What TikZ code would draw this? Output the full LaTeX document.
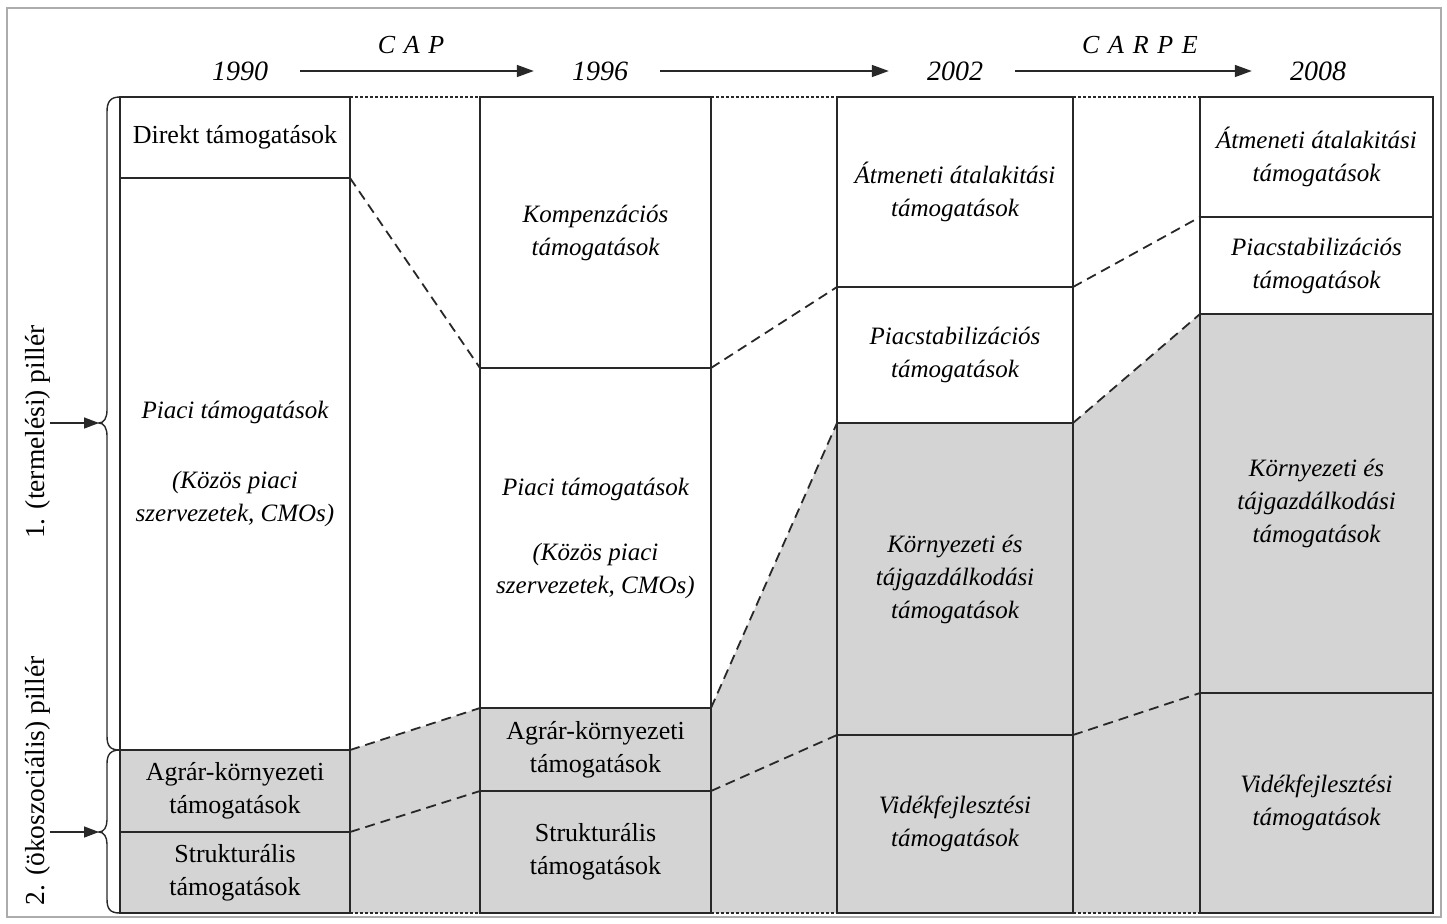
\documentclass[tikz,border=0pt]{standalone}
\usepackage{fontspec}
\setmainfont{Liberation Serif}
\usetikzlibrary{arrows.meta,backgrounds}
\definecolor{areagray}{RGB}{212,212,212}
\definecolor{ink}{RGB}{40,40,40}
\begin{document}
\begin{tikzpicture}[x=1pt,y=-1pt,
  cell/.style={draw=ink,line width=1.4pt,inner sep=0pt,outer sep=0pt,anchor=north west,align=center},
  upr/.style={font=\fontsize{26}{33}\selectfont},
  ita/.style={font=\fontsize{25}{33}\selectfont\itshape},
  yearlbl/.style={font=\fontsize{28}{33}\selectfont\itshape,inner sep=0pt},
  phase/.style={font=\fontsize{26}{33}\selectfont\itshape,inner sep=0pt},
  pillar/.style={font=\fontsize{27.5}{33}\selectfont,rotate=90,inner sep=0pt},
  conn/.style={draw=ink,line width=1.8pt,dash pattern=on 10pt off 6pt},
  dots/.style={draw=ink,line width=1.2pt,dash pattern=on 3pt off 2pt},
  timearrow/.style={draw=ink,line width=1.5pt,-{Triangle[length=17pt,width=12pt]},shorten <=32pt,shorten >=38pt},
  brace/.style={draw=ink,line width=1.4pt},
  pointer/.style={draw=ink,line width=1.5pt,-{Triangle[length=15pt,width=11pt]}}
]
\useasboundingbox (0,0) rectangle (1447,923);
\draw[gray!65,line width=1.2pt] (7,8) rectangle (1441,917);

% years
\node[yearlbl] (y1) at (240,71) {1990};
\node[yearlbl] (y2) at (600,71) {1996};
\node[yearlbl] (y3) at (955,71) {2002};
\node[yearlbl] (y4) at (1318,71) {2008};
\node[phase] (cap) at (411,45) {C\,\,A\,\,P};
\node[phase] (carpe) at (1140,45) {C\,\,A\,\,R\,\,P\,\,E};
\draw[timearrow] (y1) -- (y2);
\draw[timearrow] (y2) -- (y3);
\draw[timearrow] (y3) -- (y4);

% column 1
\node[cell,upr,minimum width=230pt,minimum height=81pt] (c1d) at (120,97) {Direkt támogatások};
\node[cell,ita,minimum width=230pt,minimum height=572pt] (c1p) at (120,178) {Piaci támogatások\\[37pt](Közös piaci\\szervezetek, CMOs)};
\node[cell,upr,minimum width=230pt,minimum height=82pt] (c1a) at (120,750) {Agrár-környezeti\\támogatások};
\node[cell,upr,minimum width=230pt,minimum height=81pt] (c1s) at (120,832) {Strukturális\\támogatások};
% column 2
\node[cell,ita,minimum width=231pt,minimum height=271pt] (c2k) at (480,97) {Kompenzációs\\támogatások};
\node[cell,ita,minimum width=231pt,minimum height=340pt] (c2p) at (480,368) {Piaci támogatások\\[32pt](Közös piaci\\szervezetek, CMOs)};
\node[cell,upr,minimum width=231pt,minimum height=83pt] (c2a) at (480,708) {Agrár-környezeti\\támogatások};
\node[cell,upr,minimum width=231pt,minimum height=122pt] (c2s) at (480,791) {Strukturális\\támogatások};
% column 3
\node[cell,ita,minimum width=236pt,minimum height=190pt] (c3a) at (837,97) {Átmeneti átalakitási\\támogatások};
\node[cell,ita,minimum width=236pt,minimum height=136pt] (c3p) at (837,287) {Piacstabilizációs\\támogatások};
\node[cell,ita,minimum width=236pt,minimum height=312pt] (c3k) at (837,423) {Környezeti és\\tájgazdálkodási\\támogatások};
\node[cell,ita,minimum width=236pt,minimum height=178pt] (c3v) at (837,735) {Vidékfejlesztési\\támogatások};
% column 4
\node[cell,ita,minimum width=233pt,minimum height=120pt] (c4a) at (1200,97) {Átmeneti átalakitási\\támogatások};
\node[cell,ita,minimum width=233pt,minimum height=97pt] (c4p) at (1200,217) {Piacstabilizációs\\támogatások};
\node[cell,ita,minimum width=233pt,minimum height=379pt] (c4k) at (1200,314) {Környezeti és\\tájgazdálkodási\\támogatások};
\node[cell,ita,minimum width=233pt,minimum height=220pt] (c4v) at (1200,693) {Vidékfejlesztési\\támogatások};

% shaded region
\begin{pgfonlayer}{background}
\fill[areagray] (c1a.north west) -- (c1a.north east) -- (c2a.north west) -- (c2a.north east)
  -- (c3k.north west) -- (c3k.north east) -- (c4k.north west) -- (c4k.north east)
  -- (c4v.south east) -- (c1s.south west) -- cycle;
\end{pgfonlayer}

% dotted top and bottom lines
\draw[dots] (c1d.north east) -- (c2k.north west);
\draw[dots] (c2k.north east) -- (c3a.north west);
\draw[dots] (c3a.north east) -- (c4a.north west);
\draw[dots] (c1s.south east) -- (c2s.south west);
\draw[dots] (c2s.south east) -- (c3v.south west);
\draw[dots] (c3v.south east) -- (c4v.south west);

% dashed connectors
\draw[conn] (c1p.north east) -- (c2p.north west);
\draw[conn] (c2p.north east) -- (c3p.north west);
\draw[conn] (c3p.north east) -- (c4p.north west);
\draw[conn] (c1a.north east) -- (c2a.north west);
\draw[conn] (c2a.north east) -- (c3k.north west);
\draw[conn] (c3k.north east) -- (c4k.north west);
\draw[conn] (c1s.north east) -- (c2s.north west);
\draw[conn] (c2s.north east) -- (c3v.north west);
\draw[conn] (c3v.north east) -- (c4v.north west);

% braces
\coordinate (t1) at (99,423);
\coordinate (t2) at (99,832);
\coordinate (s1) at (50,423);
\coordinate (s2) at (50,832);
\draw[brace] (c1d.north west) .. controls (110,97) and (107,102) .. (107,112) -- (107,410)
  .. controls (107,418) and (104,423) .. (t1) .. controls (104,423) and (107,428) .. (107,436)
  -- (107,736) .. controls (107,746) and (110,750) .. (c1a.north west);
\draw[brace] (c1a.north west) .. controls (110,750) and (107,755) .. (107,764) -- (107,820)
  .. controls (107,827) and (104,832) .. (t2) .. controls (104,832) and (107,837) .. (107,844)
  -- (107,899) .. controls (107,909) and (110,913) .. (c1s.south west);
\draw[pointer] (s1) -- (t1);
\draw[pointer] (s2) -- (t2);

% pillar labels
\node[pillar] (p1) at (38,432) {1. (termelési) pillér};
\node[pillar] (p2) at (38,781) {2. (ökoszociális) pillér};
\end{tikzpicture}
\end{document}
